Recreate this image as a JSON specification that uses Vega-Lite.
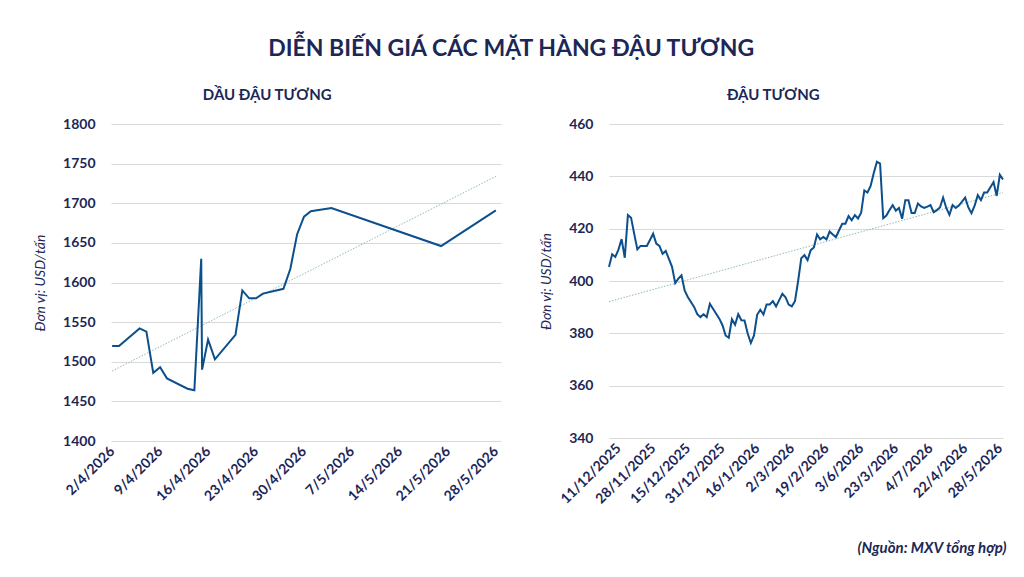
{
  "$schema": "https://vega.github.io/schema/vega-lite/v6.json",
  "background": "white",
  "padding": {"left": 33, "top": 38, "right": 8, "bottom": 10},
  "title": {
    "text": "DIỄN BIẾN GIÁ CÁC MẶT HÀNG ĐẬU TƯƠNG",
    "font": "Lato",
    "fontSize": 23,
    "fontWeight": "bold",
    "color": "#1c2757",
    "anchor": "middle",
    "dx": -9,
    "offset": 27
  },
  "datasets": {
    "dau": [
      {"d": "2026-04-02T00:00:00", "v": 1520},
      {"d": "2026-04-03T00:00:00", "v": 1520},
      {"d": "2026-04-06T00:00:00", "v": 1542},
      {"d": "2026-04-07T00:00:00", "v": 1538},
      {"d": "2026-04-08T00:00:00", "v": 1486},
      {"d": "2026-04-09T00:00:00", "v": 1493},
      {"d": "2026-04-10T00:00:00", "v": 1479},
      {"d": "2026-04-13T00:00:00", "v": 1466},
      {"d": "2026-04-14T00:00:00", "v": 1464},
      {"d": "2026-04-15T00:00:00", "v": 1630},
      {"d": "2026-04-15T03:00:00", "v": 1490},
      {"d": "2026-04-16T00:00:00", "v": 1528},
      {"d": "2026-04-17T00:00:00", "v": 1503},
      {"d": "2026-04-20T00:00:00", "v": 1534},
      {"d": "2026-04-21T00:00:00", "v": 1590},
      {"d": "2026-04-22T00:00:00", "v": 1580},
      {"d": "2026-04-23T00:00:00", "v": 1580},
      {"d": "2026-04-24T00:00:00", "v": 1586},
      {"d": "2026-04-27T00:00:00", "v": 1592},
      {"d": "2026-04-28T00:00:00", "v": 1617},
      {"d": "2026-04-29T00:00:00", "v": 1661},
      {"d": "2026-04-30T00:00:00", "v": 1683},
      {"d": "2026-05-01T00:00:00", "v": 1690},
      {"d": "2026-05-04T00:00:00", "v": 1694},
      {"d": "2026-05-20T00:00:00", "v": 1646},
      {"d": "2026-05-28T00:00:00", "v": 1691}
    ],
    "dauTrend": [
      {"d": "2026-04-02T00:00:00", "v": 1488.4},
      {"d": "2026-05-28T00:00:00", "v": 1733.9}
    ],
    "dauTuong": [
      {"i": 0, "v": 405.4}, {"i": 1, "v": 410.2}, {"i": 2, "v": 409.2}, {"i": 3, "v": 412},
      {"i": 4, "v": 416}, {"i": 5, "v": 408.9}, {"i": 6, "v": 425.2}, {"i": 7, "v": 424.2},
      {"i": 8, "v": 418}, {"i": 9, "v": 412.1}, {"i": 10, "v": 413.4}, {"i": 11, "v": 413.4},
      {"i": 12, "v": 413.4}, {"i": 13, "v": 415.7}, {"i": 14, "v": 418.1}, {"i": 15, "v": 414.3},
      {"i": 16, "v": 413.4}, {"i": 17, "v": 410.4}, {"i": 18, "v": 411.5}, {"i": 19, "v": 408.5},
      {"i": 20, "v": 405.4}, {"i": 21, "v": 399.2}, {"i": 22, "v": 400.9}, {"i": 23, "v": 402.2},
      {"i": 24, "v": 396.4}, {"i": 25, "v": 393.9}, {"i": 26, "v": 392}, {"i": 27, "v": 390.1},
      {"i": 28, "v": 387.3}, {"i": 29, "v": 386.2}, {"i": 30, "v": 387.3}, {"i": 31, "v": 386.2},
      {"i": 32, "v": 391.3}, {"i": 33, "v": 389.4}, {"i": 34, "v": 387.5}, {"i": 35, "v": 385.6},
      {"i": 36, "v": 383.1}, {"i": 37, "v": 379.2}, {"i": 38, "v": 378.3}, {"i": 39, "v": 385.4},
      {"i": 40, "v": 383.3}, {"i": 41, "v": 387.3}, {"i": 42, "v": 385}, {"i": 43, "v": 384.9},
      {"i": 44, "v": 379.9}, {"i": 45, "v": 376.3}, {"i": 46, "v": 379.2}, {"i": 47, "v": 387.1},
      {"i": 48, "v": 389}, {"i": 49, "v": 387.2}, {"i": 50, "v": 391}, {"i": 51, "v": 391},
      {"i": 52, "v": 392.3}, {"i": 53, "v": 390.3}, {"i": 54, "v": 392.7}, {"i": 55, "v": 395.1},
      {"i": 56, "v": 393.8}, {"i": 57, "v": 391}, {"i": 58, "v": 390.3}, {"i": 59, "v": 392.3},
      {"i": 60, "v": 400}, {"i": 61, "v": 408.7}, {"i": 62, "v": 409.9}, {"i": 63, "v": 408},
      {"i": 64, "v": 411.8}, {"i": 65, "v": 412.8}, {"i": 66, "v": 417.8}, {"i": 67, "v": 415.9},
      {"i": 68, "v": 416.8}, {"i": 69, "v": 415.9}, {"i": 70, "v": 418.9}, {"i": 71, "v": 417.8},
      {"i": 72, "v": 416.8}, {"i": 73, "v": 419.4}, {"i": 74, "v": 421.9}, {"i": 75, "v": 421.9},
      {"i": 76, "v": 424.8}, {"i": 77, "v": 423.2}, {"i": 78, "v": 425.2}, {"i": 79, "v": 423.9},
      {"i": 80, "v": 426.1}, {"i": 81, "v": 434.6}, {"i": 82, "v": 433.8}, {"i": 83, "v": 436.3},
      {"i": 84, "v": 441.3}, {"i": 85, "v": 445.6}, {"i": 86, "v": 444.9}, {"i": 87, "v": 424},
      {"i": 88, "v": 425}, {"i": 89, "v": 427.1}, {"i": 90, "v": 429}, {"i": 91, "v": 426.9},
      {"i": 92, "v": 427.9}, {"i": 93, "v": 423.8}, {"i": 94, "v": 430.9}, {"i": 95, "v": 430.9},
      {"i": 96, "v": 426}, {"i": 97, "v": 426}, {"i": 98, "v": 429.6}, {"i": 99, "v": 428.5},
      {"i": 100, "v": 427.9}, {"i": 101, "v": 428.4}, {"i": 102, "v": 429}, {"i": 103, "v": 426.3},
      {"i": 104, "v": 427.1}, {"i": 105, "v": 428.1}, {"i": 106, "v": 431.9}, {"i": 107, "v": 427.9},
      {"i": 108, "v": 425.3}, {"i": 109, "v": 429}, {"i": 110, "v": 427.9}, {"i": 111, "v": 428.8},
      {"i": 112, "v": 430.3}, {"i": 113, "v": 431.9}, {"i": 114, "v": 428.1}, {"i": 115, "v": 425.9},
      {"i": 116, "v": 428.8}, {"i": 117, "v": 432.8}, {"i": 118, "v": 430.9}, {"i": 119, "v": 433.8},
      {"i": 120, "v": 433.8}, {"i": 121, "v": 435.8}, {"i": 122, "v": 437.8}, {"i": 123, "v": 432.5},
      {"i": 124, "v": 440.6}, {"i": 125, "v": 438.8}
    ],
    "dauTuongTrend": [
      {"i": 0, "v": 392.1},
      {"i": 125, "v": 433.8}
    ]
  },
  "spacing": 38,
  "hconcat": [
    {
      "width": 390,
      "height": 317,
      "title": {"text": "DẦU ĐẬU TƯƠNG", "frame": "bounds", "anchor": "middle", "offset": 14},
      "encoding": {
        "x": {
          "field": "d",
          "type": "temporal",
          "title": null,
          "scale": {"domain": [{"year": 2026, "month": 4, "date": 1, "hours": 20}, {"year": 2026, "month": 5, "date": 28, "hours": 18}]},
          "axis": {
            "values": [
              {"year": 2026, "month": 4, "date": 2},
              {"year": 2026, "month": 4, "date": 9},
              {"year": 2026, "month": 4, "date": 16},
              {"year": 2026, "month": 4, "date": 23},
              {"year": 2026, "month": 4, "date": 30},
              {"year": 2026, "month": 5, "date": 7},
              {"year": 2026, "month": 5, "date": 14},
              {"year": 2026, "month": 5, "date": 21},
              {"year": 2026, "month": 5, "date": 28}
            ],
            "format": "%-d/%-m/%Y",
            "grid": false
          }
        },
        "y": {
          "field": "v",
          "type": "quantitative",
          "title": "Đơn vị: USD/tấn",
          "scale": {"domain": [1400, 1800], "nice": false, "zero": false},
          "axis": {"values": [1400, 1450, 1500, 1550, 1600, 1650, 1700, 1750, 1800], "format": "d"}
        }
      },
      "layer": [
        {
          "data": {"name": "dauTrend"},
          "mark": {"type": "line", "color": "#8fbcb8", "strokeWidth": 1, "strokeDash": [1.5, 1.5]}
        },
        {
          "data": {"name": "dau"},
          "mark": {"type": "line", "color": "#0b4f8c", "strokeWidth": 2}
        }
      ]
    },
    {
      "width": 394,
      "height": 314,
      "title": {"text": "ĐẬU TƯƠNG", "frame": "bounds", "anchor": "middle", "offset": 14},
      "encoding": {
        "x": {
          "field": "i",
          "type": "quantitative",
          "title": "(Nguồn: MXV tổng hợp)",
          "scale": {"domain": [0, 125], "nice": false, "zero": false},
          "axis": {
            "values": [3, 14, 25, 36, 47, 58, 69, 80, 91, 102, 113, 124],
            "labelExpr": "['11/12/2025','28/11/2025','15/12/2025','31/12/2025','16/1/2026','2/3/2026','19/2/2026','3/6/2026','23/3/2026','4/7/2026','22/4/2026','28/5/2026'][(datum.value - 3) / 11]",
            "grid": false,
            "titleAnchor": "end",
            "titleFontStyle": "italic",
            "titleFontWeight": "bold",
            "titleFontSize": 15,
            "titlePadding": 34,
            "titleX": 397
          }
        },
        "y": {
          "field": "v",
          "type": "quantitative",
          "title": "Đơn vị: USD/tấn",
          "scale": {"domain": [340, 460], "nice": false, "zero": false},
          "axis": {"values": [340, 360, 380, 400, 420, 440, 460], "format": "d"}
        }
      },
      "layer": [
        {
          "data": {"name": "dauTuongTrend"},
          "mark": {"type": "line", "color": "#8fbcb8", "strokeWidth": 1, "strokeDash": [1.5, 1.5]}
        },
        {
          "data": {"name": "dauTuong"},
          "mark": {"type": "line", "color": "#0b4f8c", "strokeWidth": 2}
        }
      ]
    }
  ],
  "config": {
    "view": {"stroke": null},
    "font": "Lato",
    "title": {"font": "Lato", "fontSize": 15, "fontWeight": "bold", "color": "#1c2757"},
    "axis": {
      "domain": false,
      "ticks": false,
      "tickSize": 0,
      "labelOverlap": false,
      "labelFont": "Lato",
      "labelFontSize": 14,
      "labelFontWeight": "bold",
      "labelColor": "#1c2757",
      "titleFont": "Lato",
      "titleColor": "#1c2757",
      "gridColor": "#d9d9d9",
      "gridWidth": 1
    },
    "axisY": {
      "labelPadding": 16,
      "titleFontSize": 14,
      "titleFontWeight": "normal",
      "titleFontStyle": "italic",
      "titlePadding": 15
    },
    "axisX": {
      "labelAngle": -45,
      "labelAlign": "right",
      "labelBaseline": "middle",
      "labelPadding": 8
    }
  }
}
